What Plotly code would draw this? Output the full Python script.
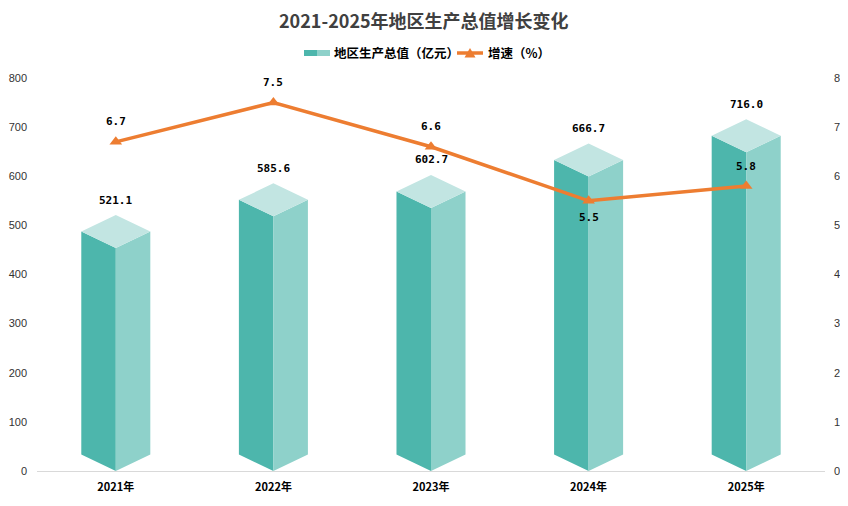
import plotly.graph_objects as go

years = ["2021年", "2022年", "2023年", "2024年", "2025年"]
gdp = [521.1, 585.6, 602.7, 666.7, 716.0]
growth = [6.7, 7.5, 6.6, 5.5, 5.8]
gdp_labels = ["521.1", "585.6", "602.7", "666.7", "716.0"]
growth_labels = ["6.7", "7.5", "6.6", "5.5", "5.8"]

LEFT = "#4db6ac"
RIGHT = "#8ed1ca"
TOP = "#c2e5e2"
ORANGE = "#ed7d31"

# isometric bar geometry: half width in category units, diamond half height in value units
w = 0.219
d = 33.6

xs = list(range(len(years)))

left_x, left_y, right_x, right_y, top_x, top_y = [], [], [], [], [], []
for c, v in zip(xs, gdp):
    left_x += [c, c - w, c - w, c, c, None]
    left_y += [0, d, v - d, v - 2 * d, 0, None]
    right_x += [c, c + w, c + w, c, c, None]
    right_y += [0, d, v - d, v - 2 * d, 0, None]
    top_x += [c, c - w, c, c + w, c, None]
    top_y += [v - 2 * d, v - d, v, v - d, v - 2 * d, None]

fig = go.Figure()
for fx, fy, col in [(left_x, left_y, LEFT), (right_x, right_y, RIGHT), (top_x, top_y, TOP)]:
    fig.add_trace(go.Scatter(
        x=fx, y=fy, fill="toself", fillcolor=col, mode="lines",
        line=dict(width=0, color=col), showlegend=False, hoverinfo="skip",
    ))

fig.add_trace(go.Scatter(
    x=xs, y=growth, yaxis="y2", mode="lines+markers",
    line=dict(color=ORANGE, width=3.5),
    marker=dict(symbol="triangle-up", size=11, color=ORANGE),
    showlegend=False,
))

label_font = dict(family="DejaVu Sans Mono", size=11, color="#000000")
for c, v, t in zip(xs, gdp, gdp_labels):
    fig.add_annotation(x=c, y=v, text="<b>%s</b>" % t, showarrow=False,
                       yshift=15, font=label_font)
for c, g, t in zip(xs, growth, growth_labels):
    shift = -17 if g == min(growth) else 20
    fig.add_annotation(x=c, y=g, yref="y2", text="<b>%s</b>" % t, showarrow=False,
                       yshift=shift, font=label_font)

# page body has an 8px margin, so plot area pixels are measured from the window
# and the figure is made 8px smaller each way
PL, PT, PW, PH = 37, 78, 788, 393


def px(x):
    return (x - PL) / PW


def py(y):
    return (PT + PH - y) / PH


# title as an annotation so it sits just where the reference has it
fig.add_annotation(xref="paper", yref="paper", x=px(424), y=py(20),
                   xanchor="center", yanchor="middle", showarrow=False,
                   text="<b>2021-2025年地区生产总值增长变化</b>",
                   font=dict(family="Noto Sans CJK SC", size=18, color="#404040"))

# legend drawn by hand: two-tone swatch for the bars, line with triangle for growth
fig.add_shape(type="rect", xref="paper", yref="paper",
              x0=px(304), x1=px(317), y0=py(56), y1=py(50),
              fillcolor=LEFT, line_width=0)
fig.add_shape(type="rect", xref="paper", yref="paper",
              x0=px(317), x1=px(330), y0=py(56), y1=py(50),
              fillcolor=RIGHT, line_width=0)
fig.add_shape(type="line", xref="paper", yref="paper",
              x0=px(457), x1=px(483), y0=py(53), y1=py(53),
              line=dict(color=ORANGE, width=3.5))
fig.add_shape(type="path", xref="paper", yref="paper",
              xsizemode="pixel", ysizemode="pixel",
              xanchor=px(470), yanchor=py(53),
              path="M -5.5 -4.5 L 5.5 -4.5 L 0 5 Z",
              fillcolor=ORANGE, line_width=0)
legend_font = dict(family="Noto Sans CJK SC", size=12.5, color="#000000")
fig.add_annotation(xref="paper", yref="paper", x=px(332), y=py(53),
                   xanchor="left", yanchor="middle",
                   text="<b>地区生产总值（亿元）</b>", showarrow=False,
                   font=legend_font)
fig.add_annotation(xref="paper", yref="paper", x=px(486), y=py(53),
                   xanchor="left", yanchor="middle",
                   text="<b>增速（%）</b>", showarrow=False,
                   font=legend_font)

fig.update_layout(
    width=840, height=498,
    margin=dict(l=PL - 8, r=23, t=PT - 8, b=35),
    paper_bgcolor="white", plot_bgcolor="white",
    xaxis=dict(range=[-0.5, 4.5], tickvals=xs, ticktext=["<b>%s</b>" % y for y in years],
               showgrid=False, zeroline=False, showline=True, linecolor="#d9d9d9",
               linewidth=1, ticks="", ticklabelstandoff=6, automargin=False,
               tickfont=dict(family="Noto Sans CJK SC", size=11, color="#000000")),
    yaxis=dict(range=[0, 800], dtick=100, showgrid=False, zeroline=False,
               tickfont=dict(family="Liberation Sans", size=11, color="#333333"),
               ticklabelstandoff=9, automargin=False),
    yaxis2=dict(range=[0, 8], dtick=1, overlaying="y", side="right", showgrid=False,
                zeroline=False, automargin=False,
                tickfont=dict(family="Liberation Sans", size=11, color="#333333"),
                ticklabelstandoff=8),
    showlegend=False,
)

fig.write_html("out.html")
